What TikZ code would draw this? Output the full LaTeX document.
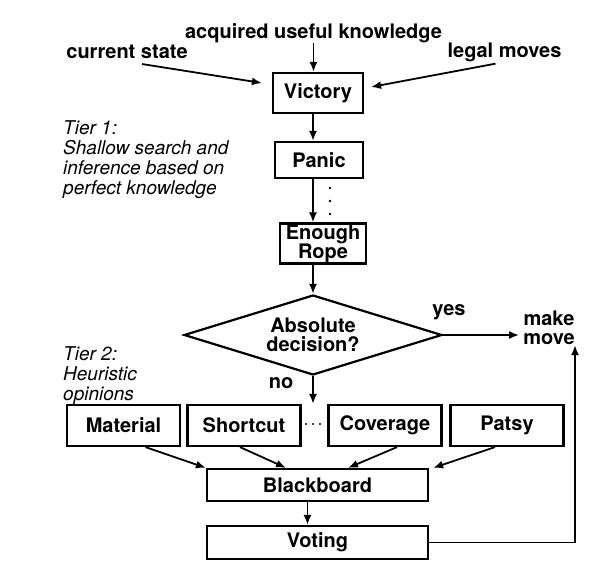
\documentclass[tikz,border=0pt]{standalone}
\usepackage{fontspec}
\setmainfont{TeX Gyre Heros}
\usetikzlibrary{arrows.meta,shapes.geometric}
\tikzset{
  box/.style={draw, line width=2.2pt, inner sep=0pt, align=center,
    font=\fontsize{20}{19}\selectfont\bfseries},
  lbl/.style={inner sep=0pt, align=center, font=\fontsize{20}{19}\selectfont\bfseries},
  tier/.style={inner sep=0pt, anchor=north west, align=left,
    font=\fontsize{19}{20}\selectfont\itshape},
  arr/.style={-{Latex[length=10pt,width=8pt]}, line width=1.8pt}
}
\begin{document}
\begin{tikzpicture}[x=1pt, y=-1pt]
  \useasboundingbox[fill=white] (0,0) rectangle (598,562);

  \node[lbl] (acq) at (313.5,33) {acquired useful knowledge};
  \node[lbl] (cur) at (127,52) {current state};
  \node[lbl] (leg) at (504.5,52) {legal moves};
  \node[box, minimum width=90, minimum height=40] (vic) at (318,93) {Victory};
  \node[box, minimum width=88, minimum height=36] (pan) at (319,160) {Panic};
  \node[box, minimum width=86, minimum height=40] (rope) at (323,243.5) {Enough\\Rope};
  \node[box, diamond, aspect=3.2, minimum width=258, minimum height=80] (dec) at (313,335) {Absolute\\decision?};
  \node[lbl] (yes) at (449,312) {yes};
  \node[lbl] (mk) at (549,328) {make\\move};
  \node[lbl] (no) at (281,383) {no};

  \node[tier] (tierA) at (63,120) {Tier 1:\\Shallow search and\\inference based on\\perfect knowledge};
  \node[tier] (tierB) at (63,346) {Tier 2:\\Heuristic\\opinions};

  \foreach \t/\x/\n in {Material/123.5/mat, Shortcut/244/sho, Coverage/385/cov, Patsy/507/pat}
    \node[box, minimum width=113, minimum height=41] (\n) at (\x,425.5) {\t};

  \node[box, minimum width=221, minimum height=32] (bb) at (317.5,485) {Blackboard};
  \node[box, minimum width=221, minimum height=33] (vot) at (317.5,542.5) {Voting};

  \draw[arr] (acq.south) -- (acq.south |- vic.north);
  \draw[arr] ([xshift=15pt,yshift=-5pt]cur.south) -- ([xshift=-10pt,yshift=10pt]vic.west);
  \draw[arr] ([xshift=-9pt,yshift=-2pt]leg.south) -- ([xshift=7pt,yshift=6pt]vic.east);
  \draw[arr] (vic.south -| dec.north) -- (pan.north -| dec.north);
  \draw[arr] (pan.south -| dec.north) -- (rope.north -| dec.north);
  \draw[arr] (rope.south -| dec.north) -- (dec.north);
  \draw[arr] (dec.south) -- (dec.south |- sho.north);
  \draw[arr, shorten >=4pt] (dec.east) -- (dec.east -| mk.west);
  \draw[arr] (vot.east) -| ([xshift=26pt]mk.south);

  \draw[arr] ([xshift=22pt]mat.south) -- (bb.north west);
  \draw[arr] ([xshift=-4pt]sho.south) -- ([xshift=-31.5pt]bb.north);
  \draw[arr] ([xshift=12pt]cov.south) -- ([xshift=30.5pt]bb.north);
  \draw[arr] ([xshift=-12pt]pat.south) -- ([xshift=4pt]bb.north east);
  \draw[arr] ([xshift=-10pt]bb.south) -- ([xshift=-10pt]vot.north);

  \foreach \y in {188,201,214} \fill (330,\y) circle (1.4pt);
  \foreach \x in {306,313,320} \fill (\x,424) circle (1.2pt);
\end{tikzpicture}
\end{document}
